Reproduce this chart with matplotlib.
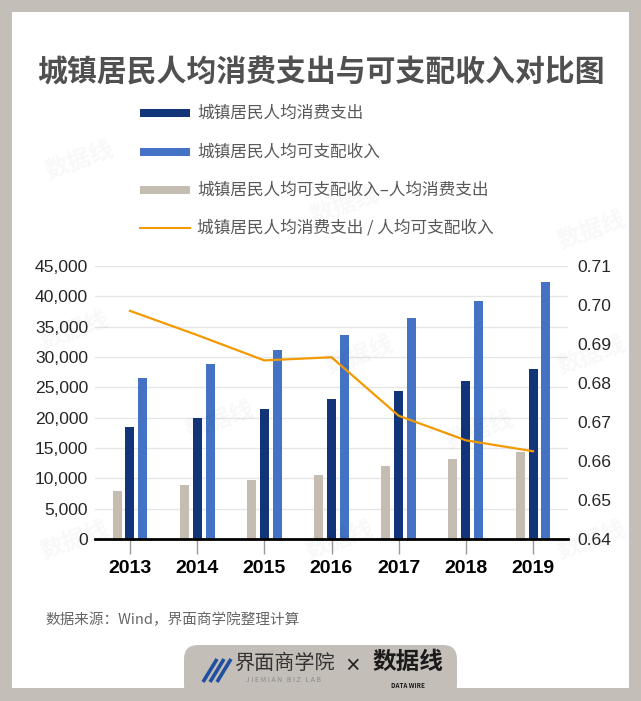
import numpy as np
import matplotlib
matplotlib.use('Agg')
import matplotlib.pyplot as plt
from matplotlib.patches import Rectangle, FancyBboxPatch
from matplotlib.lines import Line2D
from matplotlib.ticker import StrMethodFormatter, FormatStrFormatter

plt.rcParams['font.family'] = ['Noto Sans CJK SC', 'DejaVu Sans']

years = ['2013', '2014', '2015', '2016', '2017', '2018', '2019']
consumption = [18488, 19968, 21392, 23079, 24445, 26112, 28063]
income = [26467, 28844, 31195, 33616, 36396, 39251, 42359]
gap = [7979, 8876, 9803, 10537, 11951, 13139, 14296]
ratio = [0.6985, 0.6923, 0.6858, 0.6866, 0.6716, 0.6653, 0.6625]

labels = ['城镇居民人均消费支出', '城镇居民人均可支配收入',
          '城镇居民人均可支配收入–人均消费支出', '城镇居民人均消费支出 / 人均可支配收入']

c_dark = '#12357a'
c_blue = '#4472c4'
c_gray = '#c5bdb1'
c_orange = '#f29a00'
c_frame = '#c3beb7'

W, H = 641, 701
fig = plt.figure(figsize=(W / 100, H / 100), dpi=100)

def fx(px):
    return px / W

def fy(py):
    return 1 - py / H

# frame
fig.patches.append(Rectangle((0, 0), 1, 1, transform=fig.transFigure,
                             facecolor=c_frame, edgecolor='none', zorder=-10))
fig.patches.append(Rectangle((fx(12), fy(688)), fx(641 - 24), fy(12) - fy(688),
                             transform=fig.transFigure, facecolor='white',
                             edgecolor='none', zorder=-9))
# bottom tab
fig.patches.append(FancyBboxPatch((1.84, 0.02), 2.73, 0.54,
                                  boxstyle='round,pad=0,rounding_size=0.14',
                                  transform=fig.dpi_scale_trans,
                                  facecolor=c_frame, edgecolor='none', zorder=-8))

# title
fig.text(fx(321), fy(72), '城镇居民人均消费支出与可支配收入对比图', ha='center', va='center',
         fontsize=21.5, fontweight='bold', color='#505050')

# legend
rows = [113, 152, 190, 228]
cols = [c_dark, c_blue, c_gray]
for i, yy in enumerate(rows):
    if i < 3:
        fig.patches.append(Rectangle((fx(140), fy(yy + 4)), fx(50), fy(yy - 4) - fy(yy + 4),
                                     transform=fig.transFigure, facecolor=cols[i],
                                     edgecolor='none'))
    else:
        fig.lines.append(Line2D([fx(140), fx(190)], [fy(yy), fy(yy)],
                                transform=fig.transFigure, color=c_orange, lw=1.5))
    fig.text(fx(197), fy(yy), labels[i], ha='left', va='center',
             fontsize=12, color='#595959')

# chart
ax = fig.add_axes([fx(95), fy(539), fx(473), fy(266) - fy(539)])
x = np.arange(len(years))
w = 0.134
off = 0.192
ax.bar(x - off, gap, w, color=c_gray, zorder=2)
ax.bar(x, consumption, w, color=c_dark, zorder=2)
ax.bar(x + off, income, w, color=c_blue, zorder=2)
ax.set_xlim(-0.52, 6.52)
ax.set_ylim(0, 45000)
ax.set_yticks(np.arange(0, 45001, 5000))
ax.yaxis.set_major_formatter(StrMethodFormatter('{x:,.0f}'))
ax.yaxis.grid(True, color='#e6e6e6', lw=1, zorder=0)
ax.set_axisbelow(True)
for s in ['left', 'right', 'top']:
    ax.spines[s].set_visible(False)
ax.spines['bottom'].set_color('black')
ax.spines['bottom'].set_linewidth(2)
ax.spines['bottom'].set_zorder(3)
ax.tick_params(axis='y', length=0, pad=5, labelsize=12.6, labelcolor='#262626')
for t in ax.get_yticklabels():
    t.set_family(['Liberation Sans', 'DejaVu Sans'])
ax.set_xticks(x)
ax.set_xticklabels(years)
ax.tick_params(axis='x', length=11, width=1, color='#9a9a9a', pad=4)
for t in ax.get_xticklabels():
    t.set_family(['Liberation Sans Narrow', 'Liberation Sans', 'DejaVu Sans'])
    t.set_fontweight('bold')
    t.set_fontsize(14)
    t.set_color('black')

ax2 = ax.twinx()
ax2.plot(x, ratio, color=c_orange, lw=1.6)
ax2.set_ylim(0.64, 0.71)
ax2.set_yticks(np.arange(0.64, 0.7101, 0.01))
ax2.yaxis.set_major_formatter(FormatStrFormatter('%.2f'))
for s in ax2.spines.values():
    s.set_visible(False)
ax2.tick_params(axis='y', length=0, pad=6.5, labelsize=12.6, labelcolor='#262626')
for t in ax2.get_yticklabels():
    t.set_family(['Liberation Sans', 'DejaVu Sans'])

# source
fig.text(fx(45), fy(620), '数据来源：Wind，界面商学院整理计算', ha='left', va='center',
         fontsize=10.5, color='#666666')

# logos in the tab
for k in range(3):
    x0 = 203 + k * 7
    fig.lines.append(Line2D([fx(x0), fx(x0 + 14)], [fy(682), fy(659)],
                            transform=fig.transFigure, color='#1f4f9e', lw=2.6,
                            solid_capstyle='butt'))
fig.text(fx(284), fy(663), '界面商学院', ha='center', va='center',
         fontsize=14.5, color='#333333')
fig.text(fx(284), fy(680), 'J I E M I A N   B I Z   L A B', ha='center', va='center',
         fontsize=5, color='#8a8a8a')
fig.text(fx(352), fy(666), '×', ha='center', va='center', fontsize=12,
         fontweight='bold', color='#222222')
fig.text(fx(408), fy(662), '数据线', ha='center', va='center', fontsize=17,
         fontweight='bold', color='#1a1a1a')
fig.text(fx(408), fy(686), 'DATA WIRE', ha='center', va='center', fontsize=4.5,
         fontweight='bold', color='#1a1a1a')

# faint watermarks
for wx, wy in [(80, 160), (345, 205), (592, 230), (75, 330), (360, 355), (592, 355),
               (75, 540), (340, 540), (592, 540), (220, 420), (480, 430)]:
    fig.text(fx(wx), fy(wy), '数据线', ha='center', va='center', fontsize=17,
             fontweight='bold', color='#000000', alpha=0.03, rotation=20)

fig.savefig('out.png', dpi=100)
